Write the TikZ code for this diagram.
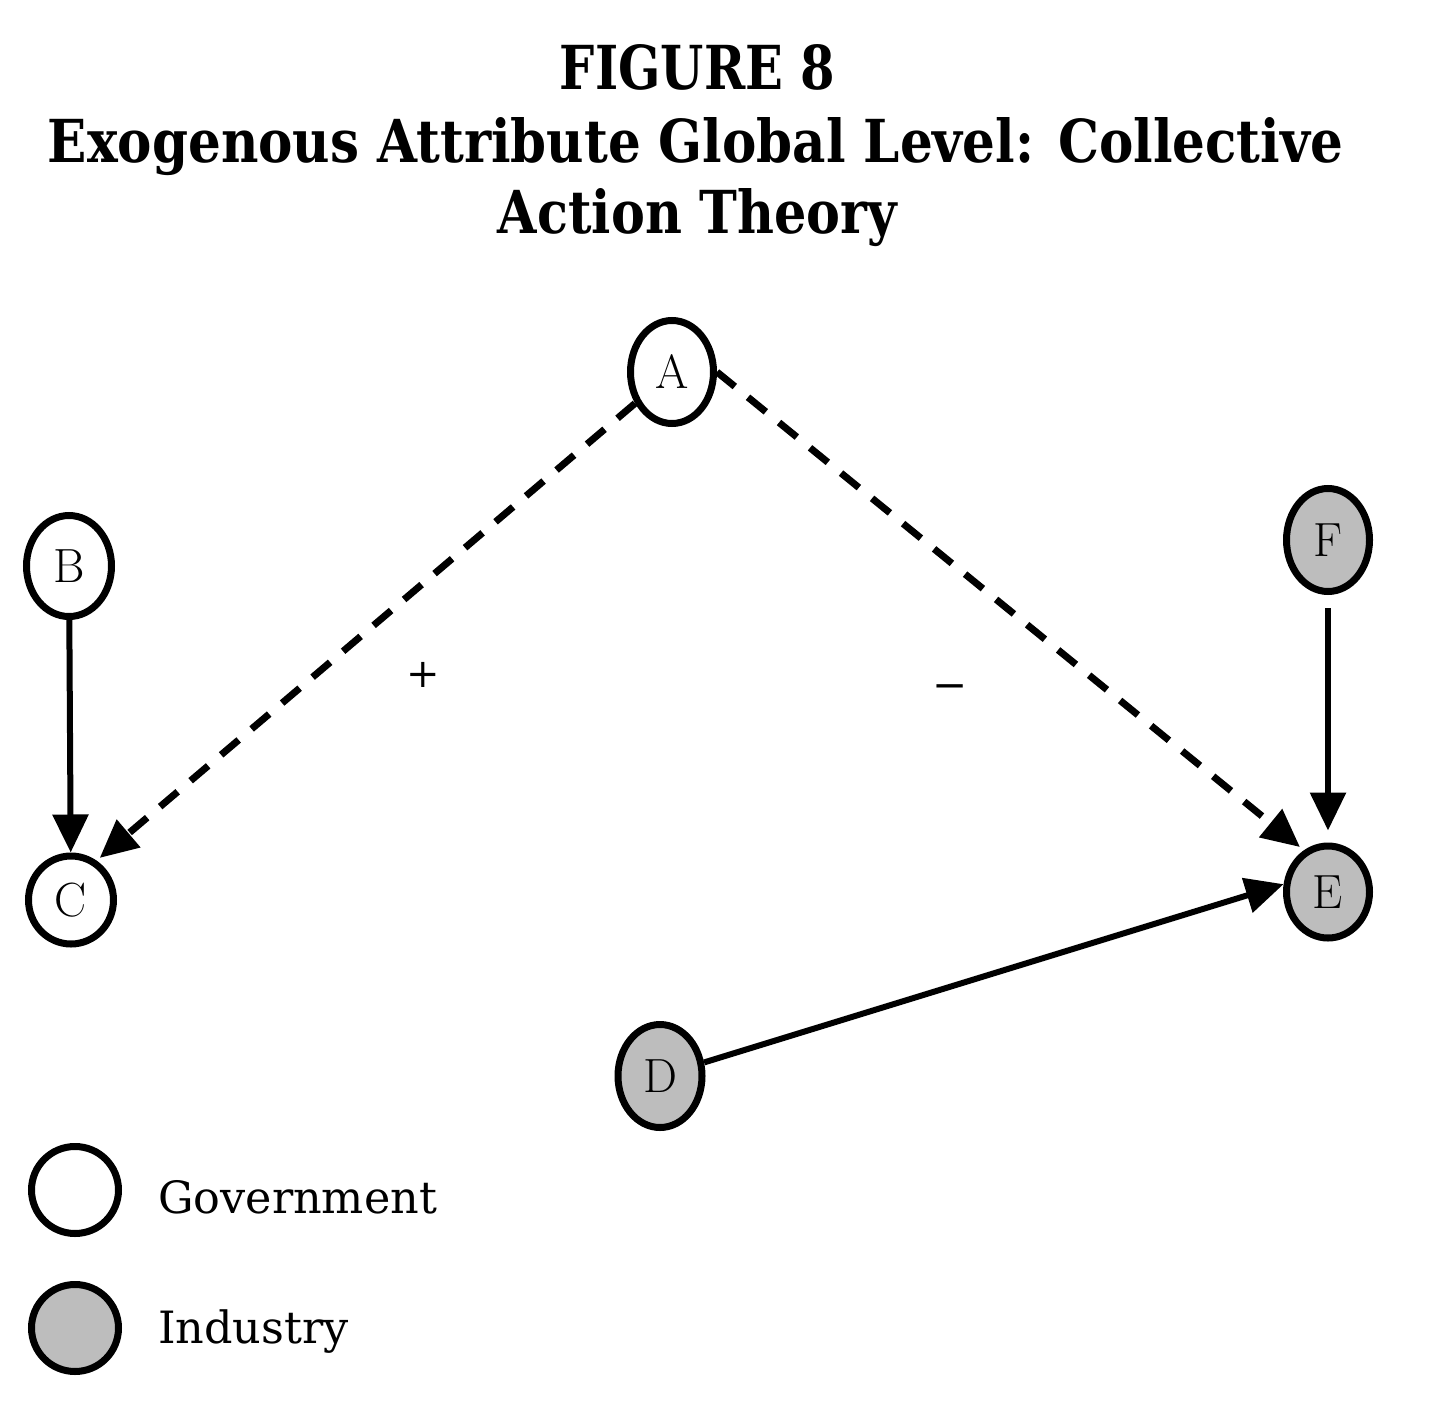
\documentclass[tikz,border=0pt]{standalone}
\usepackage{fontspec}
\usepackage{graphicx}
\newfontfamily\titlefont{DejaVu Serif}
\newfontfamily\legendfont{DejaVu Serif}
\usetikzlibrary{shapes.geometric,arrows.meta}
\begin{document}
\begin{tikzpicture}[x=1pt,y=-1pt,
  vnode/.style={ellipse, draw=black, line width=7pt, minimum width=83pt, minimum height=103pt, inner sep=0pt, font=\fontsize{48}{48}\selectfont},
  gov/.style={vnode, fill=white},
  ind/.style={vnode, fill=black!26},
  legcirc/.style={circle, draw=black, line width=7pt, minimum size=87pt, inner sep=0pt},
  link/.style={line width=6pt, -{Triangle[length=38pt,width=35pt]}},
  dlink/.style={link, line width=7pt, dash pattern=on 23pt off 17pt},
  titleline/.style={inner sep=0pt, anchor=base},
  legtext/.style={anchor=base west, inner sep=0pt, font=\legendfont\fontsize{44.5}{44.5}\selectfont},
  sign/.style={inner sep=0pt, font=\legendfont\fontsize{40}{40}\selectfont}
]
\useasboundingbox[fill=white] (0,0) rectangle (1432,1402);

% title
\node[titleline] (t1) at (697.5,90) {\resizebox{275pt}{45pt}{\titlefont\bfseries FIGURE 8}};
\node[titleline] (t2) at (695.5,162) {\resizebox{1295pt}{45pt}{\titlefont\bfseries Exogenous Attribute Global Level: Collective}};
\node[titleline] (t3) at (697.5,233) {\resizebox{399pt}{45pt}{\titlefont\bfseries Action Theory}};

% nodes
\node[gov] (A) at (672,372) {A};
\node[gov, minimum width=85pt, minimum height=101pt] (B) at (69,566) {B};
\node[gov, minimum width=85pt, minimum height=88pt] (C) at (71,900) {C};
\node[ind] (F) at (1328,540) {F};
\node[ind, minimum width=83pt, minimum height=92pt] (E) at (1328,892) {E};
\node[ind, minimum width=84pt] (D) at (660,1076) {D};

% connectors
\draw[link] (B) -- (C);
\draw[dlink, shorten >=4pt] (A) -- (C.57);
\draw[dlink, shorten >=5pt] (A.east) -- (E.120);
\draw[link, shorten <=13pt, shorten >=12pt] (F) -- (E);
\draw[link] (D) -- (E.170);

% signs
\node[sign] (plus) at (423,675) {+};
\node[sign, font=\legendfont\fontsize{42}{42}\selectfont] (minus) at (950,692) {−};

% legend
\node[legcirc, fill=white] (lg) at (75,1190) {};
\node[legcirc, fill=black!26] (li) at (75,1328) {};
\node[legtext] (lgt) at (158,1213) {Government};
\node[legtext] (lit) at (158,1343) {Industry};
\end{tikzpicture}
\end{document}
